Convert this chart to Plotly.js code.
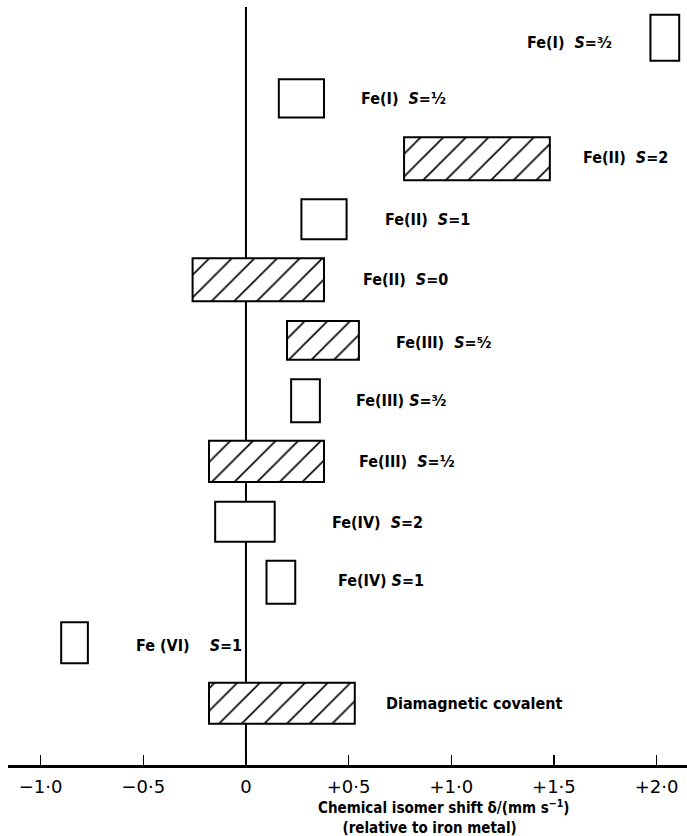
<!DOCTYPE html>
<html>
<head>
<meta charset="utf-8">
<script src="https://cdn.plot.ly/plotly-3.0.1.min.js"></script>
<style>
  html, body { margin: 0; padding: 0; background: #fff; }
  #chart { width: 687px; height: 836px; }
</style>
</head>
<body>
<div id="chart"></div>
<script>
// ---- data ----
const categories = [
  "Fe(I) S=3/2", "Fe(I) S=1/2", "Fe(II) S=2", "Fe(II) S=1", "Fe(II) S=0",
  "Fe(III) S=5/2", "Fe(III) S=3/2", "Fe(III) S=1/2", "Fe(IV) S=2",
  "Fe(IV) S=1", "Fe(VI) S=1", "Diamagnetic covalent"
];
const labels = [
  "Fe(I)\u00a0\u00a0<i>S</i>=³⁄₂",
  "Fe(I)\u00a0\u00a0<i>S</i>=½",
  "Fe(II)\u00a0\u00a0<i>S</i>=2",
  "Fe(II)\u00a0\u00a0<i>S</i>=1",
  "Fe(II)\u00a0\u00a0<i>S</i>=0",
  "Fe(III)\u00a0\u00a0<i>S</i>=⁵⁄₂",
  "Fe(III)\u00a0<i>S</i>=³⁄₂",
  "Fe(III)\u00a0\u00a0<i>S</i>=½",
  "Fe(IV)\u00a0\u00a0<i>S</i>=2",
  "Fe(IV)\u00a0<i>S</i>=1",
  "Fe\u00a0(VI)\u00a0\u00a0\u00a0\u00a0<i>S</i>=1",
  "Diamagnetic covalent"
];
const shiftLow  = [1.97, 0.16, 0.77, 0.27, -0.26, 0.20, 0.22, -0.18, -0.15, 0.10, -0.90, -0.18];
const shiftHigh = [2.11, 0.38, 1.48, 0.49,  0.38, 0.55, 0.36,  0.38,  0.14, 0.24, -0.77,  0.53];
const hatched   = [false, false, true, false, true, true, false, true, false, false, false, true];
const tickVals  = [-1.0, -0.5, 0, 0.5, 1.0, 1.5, 2.0];
const tickText  = ["−1·0", "−0·5", "0", "+0·5", "+1·0", "+1·5", "+2·0"];
const axisTitleLines = ["Chemical isomer shift δ/(mm s<sup>−1</sup>)", "(relative to iron metal)"];

// ---- styling (not data) ----
const barThickness = [0.76, 0.63, 0.71, 0.66, 0.71, 0.64, 0.71, 0.68, 0.66, 0.71, 0.68, 0.68];
const labelSide    = ["left","right","right","right","right","right","right","right","right","right","right","right"];
const labelGap     = [36, 35, 31, 36, 37, 35, 34, 33, 55, 41, 46, 29];
const labelYShift  = [-5, 0, 1, 0, 0, -2, 0, 0, -1, 2, -3, 0];
const FONT = "DejaVu Sans Condensed, DejaVu Sans, sans-serif";

const widths = shiftHigh.map((h, i) => h - shiftLow[i]);

const trace = {
  type: "bar",
  orientation: "h",
  y: categories,
  x: widths,
  base: shiftLow,
  width: barThickness,
  marker: {
    color: "white",
    line: { color: "black", width: 2 },
    pattern: {
      shape: hatched.map(h => h ? "/" : ""),
      fgcolor: "black",
      fgopacity: 1,
      bgcolor: "white",
      size: 16,
      solidity: 0.1,
      fillmode: "overlay"
    }
  },
  hoverinfo: "skip",
  showlegend: false
};

const annotations = categories.map((c, i) => ({
  x: labelSide[i] === "left" ? shiftLow[i] : shiftHigh[i],
  y: c,
  xref: "x", yref: "y",
  text: "<b>" + labels[i] + "</b>",
  showarrow: false,
  xanchor: labelSide[i] === "left" ? "right" : "left",
  yanchor: "middle",
  xshift: labelSide[i] === "left" ? -labelGap[i] : labelGap[i],
  yshift: labelYShift[i],
  font: { family: FONT, size: 16, color: "black" }
}));

annotations.push({
  x: 0.96, y: 0, xref: "x", yref: "paper",
  text: "<b>" + axisTitleLines[0] + "<br>" + axisTitleLines[1] + "\u00a0\u00a0\u00a0\u00a0\u00a0\u00a0</b>",
  showarrow: false, xanchor: "center", yanchor: "top", yshift: -30,
  align: "center",
  font: { family: FONT, size: 15, color: "black" }
});

const layout = {
  width: 687, height: 836,
  margin: { l: 8, r: 0, t: 7, b: 71 },
  paper_bgcolor: "white",
  plot_bgcolor: "white",
  bargap: 0,
  xaxis: {
    range: [-1.159, 2.148],
    showline: true, linecolor: "black", linewidth: 2.5,
    ticks: "inside", ticklen: 10, tickwidth: 1.5, tickcolor: "black",
    tickvals: tickVals, ticktext: tickText,
    ticklabelstandoff: 4,
    tickfont: { family: "DejaVu Sans, sans-serif", size: 18, color: "black" },
    showgrid: false, zeroline: false, fixedrange: true
  },
  yaxis: {
    type: "category",
    range: [12.02, -0.51],
    visible: false, showgrid: false, zeroline: false, fixedrange: true
  },
  shapes: [{
    type: "line", layer: "below",
    xref: "x", yref: "paper",
    x0: 0, x1: 0, y0: 0, y1: 1,
    line: { color: "black", width: 2 }
  }],
  annotations: annotations
};

Plotly.newPlot("chart", [trace], layout, { displayModeBar: false, staticPlot: true });
</script>
</body>
</html>
